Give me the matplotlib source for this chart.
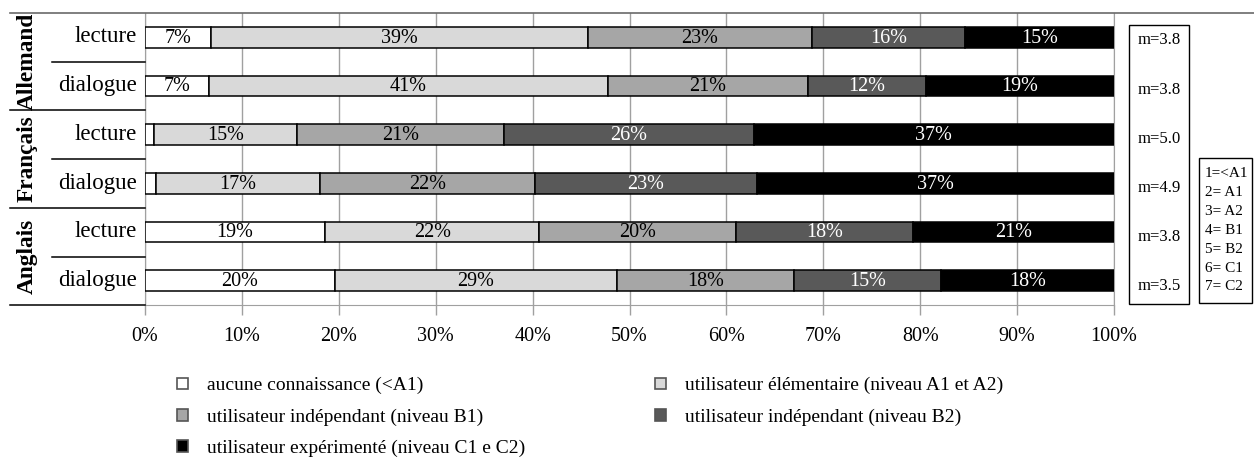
import numpy as np
import matplotlib.pyplot as plt
from matplotlib.patches import Rectangle, Patch
from matplotlib.lines import Line2D

plt.rcParams['font.family'] = ['Liberation Serif', 'DejaVu Serif']

languages = ['Allemand', 'Français', 'Anglais']
rows = ['lecture', 'dialogue', 'lecture', 'dialogue', 'lecture', 'dialogue']

# shares in % per row (Allemand lecture, Allemand dialogue, Français ..., Anglais ...)
aucune = [6.8, 6.6, 0.9, 1.1, 18.6, 19.6]
elementaire = [38.9, 41.2, 14.8, 17.0, 22.1, 29.1]
independant_b1 = [23.1, 20.6, 21.4, 22.1, 20.3, 18.3]
independant_b2 = [15.8, 12.2, 25.7, 23.0, 18.3, 15.1]
experimente = [15.4, 19.4, 37.2, 36.8, 20.7, 17.9]

moyennes = ['m=3.8', 'm=3.8', 'm=5.0', 'm=4.9', 'm=3.8', 'm=3.5']
echelle = ['1=<A1', '2= A1', '3= A2', '4= B1', '5= B2', '6= C1', '7= C2']

series = [
    ('aucune connaissance (<A1)', aucune, '#ffffff', 'black'),
    ('utilisateur élémentaire (niveau A1 et A2)', elementaire, '#d9d9d9', 'black'),
    ('utilisateur indépendant (niveau B1)', independant_b1, '#a6a6a6', 'black'),
    ('utilisateur indépendant (niveau B2)', independant_b2, '#595959', 'white'),
    ('utilisateur expérimenté (niveau C1 e C2)', experimente, '#000000', 'white'),
]

W, H = 1254, 471


def px(x, y):
    return x / W, 1 - y / H


fig = plt.figure(figsize=(W / 100, H / 100), dpi=100)
x0, y0 = px(145, 305)
x1, y1 = px(1114, 13)
ax = fig.add_axes([x0, y0, x1 - x0, y1 - y0])

ypos = np.arange(len(rows))
left = np.zeros(len(rows))
handles = []
for name, vals, color, tcol in series:
    vals = np.array(vals)
    bars = ax.barh(ypos, vals, left=left, height=0.42, color=color,
                   edgecolor='black', linewidth=1.1, zorder=3)
    for b, v in zip(bars, vals):
        if v >= 2:
            ax.text(b.get_x() + b.get_width() / 2, b.get_y() + b.get_height() / 2 + 0.02,
                    f'{round(v)}%', ha='center', va='center', color=tcol,
                    fontsize=14.5, zorder=4)
    left += vals
    handles.append(Patch(facecolor=color, edgecolor='#555555', linewidth=1.2, label=name))

ax.set_xlim(0, 100)
ax.set_ylim(5.5, -0.5)
ax.set_xticks(np.arange(0, 101, 10))
ax.set_xticklabels([f'{t}%' for t in range(0, 101, 10)], fontsize=14.5)
ax.set_yticks([])
ax.tick_params(axis='x', length=7, width=1, color='#a0a0a0', pad=9)
ax.grid(axis='x', color='#a0a0a0', linewidth=1)
ax.set_axisbelow(True)
for s in ['left', 'right', 'bottom']:
    ax.spines[s].set_color('#a0a0a0')
ax.spines['top'].set_visible(False)

# category labels on the left
for i, r in enumerate(rows):
    fig.text(*px(137, 37 + i * 48.7), r, ha='right', va='center', fontsize=16.5)
for g, lang in enumerate(languages):
    fig.text(*px(27, 61.5 + g * 97.4), lang, ha='center', va='center',
             rotation=90, fontsize=16.8, fontweight='bold')

# separator lines
fig.add_artist(Line2D([10 / W, 1], [1 - 13 / H] * 2, color='#6a6a6a', lw=1.2))
for g in range(1, 4):
    yy = 1 - (13 + g * 97.4) / H
    fig.add_artist(Line2D([10 / W, 145 / W], [yy, yy], color='black', lw=1.1))
for g in range(3):
    yy = 1 - (13 + 48.7 + g * 97.4) / H
    fig.add_artist(Line2D([52 / W, 145 / W], [yy, yy], color='black', lw=1.1))

# box with means
bx0, by0 = px(1129, 304)
bx1, by1 = px(1189, 25)
fig.add_artist(Rectangle((bx0, by0), bx1 - bx0, by1 - by0, fill=False,
                         edgecolor='black', lw=1, transform=fig.transFigure))
for i, m in enumerate(moyennes):
    fig.text(*px(1159, 40.5 + i * 49.2), m, ha='center', va='center', fontsize=12)

# scale key box
kx0, ky0 = px(1199, 303)
kx1, ky1 = px(1252, 158)
fig.add_artist(Rectangle((kx0, ky0), kx1 - kx0, ky1 - ky0, fill=False,
                         edgecolor='black', lw=1, transform=fig.transFigure))
for i, e in enumerate(echelle):
    fig.text(*px(1205, 174 + i * 18.8), e, ha='left', va='center', fontsize=11)

# legend, two columns
leg_kw = dict(frameon=False, fontsize=14, handlelength=0.55, handleheight=0.55,
              handletextpad=1.0, labelspacing=0.72, borderaxespad=0, borderpad=0)
fig.legend(handles=[handles[0], handles[2], handles[4]], loc='upper left',
           bbox_to_anchor=px(177, 377), **leg_kw)
fig.legend(handles=[handles[1], handles[3]], loc='upper left',
           bbox_to_anchor=px(655, 377), **leg_kw)

fig.savefig('out.png', dpi=100)
